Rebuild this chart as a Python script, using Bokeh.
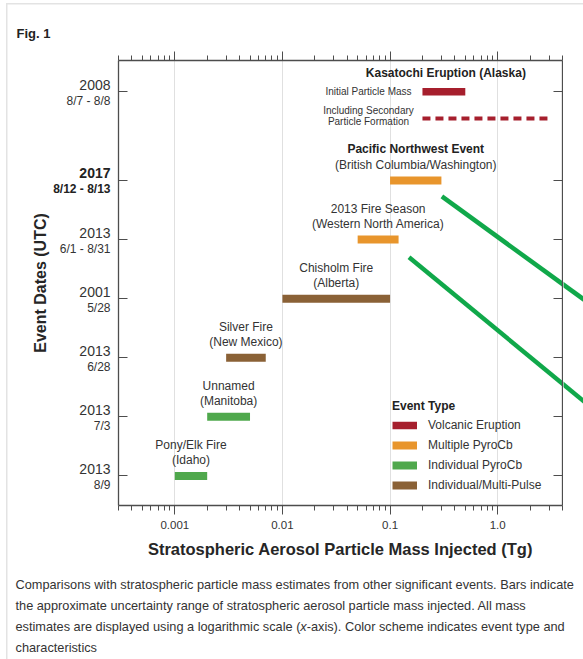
import math

from bokeh.core.properties import value
from bokeh.embed import file_html
from bokeh.layouts import column, row
from bokeh.models import (ColumnDataSource, CustomJSTickFormatter, FixedTicker, Label, Legend,
                          LegendItem, LinearAxis, LogAxis, Range1d)
from bokeh.plotting import figure
from bokeh.resources import INLINE

FONT = "Liberation Sans"

# ---- data -------------------------------------------------------------
# y rows of the chart, bottom to top (Kasatochi row sits a little higher)
row_pos = [0, 1, 2, 3, 4, 5, 6.5]
row_year = ["2013", "2013", "2013", "2001", "2013", "2017", "2008"]
row_dates = ["8/9", "7/3", "6/28", "5/28", "6/1 - 8/31", "8/12 - 8/13", "8/7 - 8/8"]
row_bold = [False, False, False, False, False, True, False]

event_name = ["Pony/Elk Fire", "Unnamed", "Silver Fire", "Chisholm Fire",
              "2013 Fire Season", "Pacific Northwest Event"]
event_place = ["(Idaho)", "(Manitoba)", "(New Mexico)", "(Alberta)",
               "(Western North America)", "(British Columbia/Washington)"]
event_row = [0, 1, 2, 3, 4, 5]
event_type = ["Individual PyroCb", "Individual PyroCb", "Individual/Multi-Pulse",
              "Individual/Multi-Pulse", "Multiple PyroCb", "Multiple PyroCb"]
mass_low = [0.001, 0.002, 0.003, 0.01, 0.05, 0.1]     # Tg
mass_high = [0.002, 0.005, 0.007, 0.1, 0.12, 0.3]     # Tg

kasatochi_row = 6.5
kasatochi_secondary_row = 6.05
kasatochi_initial = [0.2, 0.5]      # Tg
kasatochi_secondary = [0.2, 3.0]    # Tg

type_names = ["Volcanic Eruption", "Multiple PyroCb", "Individual PyroCb", "Individual/Multi-Pulse"]
type_colors = ["#a61f2d", "#e8952c", "#4fa84c", "#8a6136"]

x_major = [0.001, 0.01, 0.1, 1.0]
x_major_labels = ["0.001", "0.01", "0.1", "1.0"]

# green pointer lines (mass, row) start -> end
pointer_x0 = [0.303, 0.150]
pointer_y0 = [4.73, 3.70]
pointer_x1 = [8.0, 8.0]
pointer_y1 = [2.85, 1.11]

caption_lines = [
    "Comparisons with stratospheric particle mass estimates from other significant events. Bars indicate",
    "the approximate uncertainty range of stratospheric aerosol particle mass injected. All mass",
    None,
    "characteristics",
]
caption_line3 = ["estimates are displayed using a logarithmic scale (", "x",
                 "-axis). Color scheme indicates event type and"]

# ---- page geometry ------------------------------------------------------
W, H = 583, 659
TOP_H, BOTTOM_H = 50, 94
MID_H = H - TOP_H - BOTTOM_H            # 515
LEFT_W, RIGHT_W = 117, 20
MAIN_W = W - LEFT_W - RIGHT_W           # 446
MB_TOP, MB_BOTTOM, MB_SIDE = 10, 60, 1  # borders around the plot frame

X0, X1 = 0.0003, 4.0
Y0, Y1 = -0.5, 7.03
color_of = dict(zip(type_names, type_colors))
TXT = "#333333"
BORDER = "#e3e3e3"
AX = "#4d4d4d"
GREEN = "#10a84a"


def bare(width, height, x_range, y_range, **kw):
    f = figure(width=width, height=height, x_range=x_range, y_range=y_range,
               output_backend="svg", toolbar_location=None,
               x_axis_location=None, y_axis_location=None,
               min_border=0, min_border_left=0, min_border_right=0,
               min_border_top=0, min_border_bottom=0, **kw)
    f.outline_line_color = None
    f.grid.visible = False
    f.background_fill_alpha = 0
    f.border_fill_alpha = 0
    return f


# ---- main chart ---------------------------------------------------------
y_range = Range1d(Y0, Y1)
p = figure(width=MAIN_W, height=MID_H, x_axis_type="log",
           x_range=Range1d(X0, X1), y_range=y_range,
           output_backend="svg", toolbar_location=None,
           min_border_left=MB_SIDE, min_border_right=MB_SIDE,
           min_border_top=MB_TOP, min_border_bottom=MB_BOTTOM,
           background_fill_color="white", border_fill_color="white")
p.outline_line_color = None

minor = [m * 10.0 ** e for e in range(-4, 1) for m in range(2, 10)]
minor = [v for v in minor if X0 <= v <= X1]
blank = CustomJSTickFormatter(code="return ''")

xb = p.xaxis[0]
xb.ticker = FixedTicker(ticks=x_major, minor_ticks=minor)
xb.major_label_overrides = dict(zip(x_major, x_major_labels))
xb.major_label_text_font = FONT
xb.major_label_text_font_size = "11.5px"
xb.major_label_text_color = TXT
xb.major_label_standoff = 6
xb.axis_label = "Stratospheric Aerosol Particle Mass Injected (Tg)"
xb.axis_label_text_font = FONT
xb.axis_label_text_font_size = "16.5px"
xb.axis_label_text_font_style = "bold"
xb.axis_label_text_color = "#262626"
xb.axis_label_standoff = 8

xt = LogAxis(ticker=FixedTicker(ticks=x_major, minor_ticks=minor), formatter=blank,
             major_label_text_font_size="0px", major_label_standoff=0)
p.add_layout(xt, "above")

for ax in (xb, xt):
    ax.axis_line_color = AX
    ax.axis_line_width = 1.3
    ax.major_tick_line_color = AX
    ax.minor_tick_line_color = AX
    ax.major_tick_out = 9
    ax.major_tick_in = 0
    ax.minor_tick_out = 5
    ax.minor_tick_in = 0

yl = p.yaxis[0]
yl.ticker = FixedTicker(ticks=row_pos, minor_ticks=[])
yl.formatter = blank
yr = LinearAxis(ticker=FixedTicker(ticks=row_pos, minor_ticks=[]), formatter=blank)
p.add_layout(yr, "right")
for ax in (yl, yr):
    ax.axis_line_color = AX
    ax.axis_line_width = 1.3
    ax.major_tick_line_color = AX
    ax.major_tick_in = 9
    ax.major_tick_out = 0
    ax.minor_tick_in = 0
    ax.minor_tick_out = 0
    ax.major_label_standoff = 0
    ax.major_label_text_font_size = "0px"

p.xgrid.ticker = FixedTicker(ticks=x_major)
p.xgrid.grid_line_color = "#e0e0e0"
p.ygrid.visible = False

# bars
renderers = {}
for t in type_names[1:]:
    idx = [i for i, et in enumerate(event_type) if et == t]
    src = ColumnDataSource(dict(
        lo=[mass_low[i] for i in idx], hi=[mass_high[i] for i in idx],
        row=[event_row[i] for i in idx]))
    renderers[t] = p.segment(x0="lo", x1="hi", y0="row", y1="row", source=src,
                             line_color=color_of[t], line_width=8, line_cap="butt")

renderers["Volcanic Eruption"] = p.segment(
    x0=[kasatochi_initial[0]], x1=[kasatochi_initial[1]],
    y0=[kasatochi_row], y1=[kasatochi_row],
    line_color=color_of["Volcanic Eruption"], line_width=7.5, line_cap="butt")
p.segment(x0=[kasatochi_secondary[0]], x1=[kasatochi_secondary[1]],
          y0=[kasatochi_secondary_row], y1=[kasatochi_secondary_row],
          line_color=color_of["Volcanic Eruption"], line_width=4, line_cap="butt",
          line_dash="8 5")

# event labels, centred over each bar
for name, place, lo, hi, r in zip(event_name, event_place, mass_low, mass_high, event_row):
    xc = math.sqrt(lo * hi)
    bold = name.startswith("Pacific")
    p.add_layout(Label(x=xc, y=r, y_offset=31, text=name, text_align="center",
                       text_baseline="middle", text_font=FONT, text_font_size="12px",
                       text_font_style="bold" if bold else "normal",
                       text_color="#222222" if bold else TXT))
    p.add_layout(Label(x=xc, y=r, y_offset=15.5, text=place, text_align="center",
                       text_baseline="middle", text_font=FONT, text_font_size="12px",
                       text_color=TXT))

p.add_layout(Label(x=0.33, y=kasatochi_row, y_offset=19, text="Kasatochi Eruption (Alaska)",
                   text_align="center", text_baseline="middle", text_font=FONT,
                   text_font_size="12px", text_font_style="bold", text_color="#222222"))
p.add_layout(Label(x=kasatochi_initial[0], y=kasatochi_row, x_offset=-54,
                   text="Initial Particle Mass", text_align="center", text_baseline="middle",
                   text_font=FONT, text_font_size="10px", text_color=TXT))
for txt, dy in (("Including Secondary", 8), ("Particle Formation", -3.5)):
    p.add_layout(Label(x=kasatochi_secondary[0], y=kasatochi_secondary_row, x_offset=-54,
                       y_offset=dy, text=txt, text_align="center", text_baseline="middle",
                       text_font=FONT, text_font_size="10px", text_color=TXT))

legend = Legend(
    items=[LegendItem(label=t, renderers=[renderers[t]]) for t in type_names],
    title="Event Type", location=(392 - LEFT_W - MB_SIDE, 505 - 492),
    glyph_width=25, glyph_height=14, label_height=14, label_standoff=11,
    spacing=6, padding=0, margin=0, border_line_color=None, background_fill_alpha=0,
    label_text_font=FONT, label_text_font_size="12px", label_text_color=TXT,
    title_text_font=FONT, title_text_font_size="12px", title_text_font_style="bold",
    title_text_color="#222222", title_standoff=5)
p.add_layout(legend)

pointer_src = ColumnDataSource(dict(x0=pointer_x0, y0=pointer_y0, x1=pointer_x1, y1=pointer_y1))
p.segment(x0="x0", y0="y0", x1="x1", y1="y1", source=pointer_src,
          line_color=GREEN, line_width=4.5)

# ---- side strips (their frames line up with the chart frame) ------------
# left strip: two-line date labels and the y title
left = bare(LEFT_W, MID_H, Range1d(0, LEFT_W), y_range)
lab_src = ColumnDataSource(dict(
    y=row_pos, year=row_year, dates=row_dates,
    style=["bold" if b else "normal" for b in row_bold],
    color=["#222222" if b else TXT for b in row_bold],
    x=[LEFT_W - 7] * len(row_pos)))
left.text(x="x", y="y", text="year", source=lab_src, y_offset=-7,
          text_align="right", text_baseline="middle", text_font=value(FONT),
          text_font_size="14px", text_font_style="style", text_color="color")
left.text(x="x", y="y", text="dates", source=lab_src, y_offset=9,
          text_align="right", text_baseline="middle", text_font=value(FONT),
          text_font_size="12px", text_font_style="style", text_color="color")
left.text(x=[40], y=[(Y0 + Y1) / 2], text=["Event Dates (UTC)"], angle=math.pi / 2,
          text_align="center", text_baseline="middle", text_font=value(FONT),
          text_font_size="16px", text_font_style="bold", text_color="#262626")

# right strip: the pointer lines run on past the chart edge
dpp = (math.log10(X1) - math.log10(X0)) / (MAIN_W - 2 * MB_SIDE)
right = bare(RIGHT_W, MID_H,
             Range1d(10 ** (math.log10(X1) + MB_SIDE * dpp),
                     10 ** (math.log10(X1) + (MB_SIDE + RIGHT_W) * dpp)),
             y_range, x_axis_type="log")
right.segment(x0="x0", y0="y0", x1="x1", y1="y1", source=pointer_src,
              line_color=GREEN, line_width=4.5)

# ---- heading strip ------------------------------------------------------
top = bare(W, TOP_H, Range1d(0, W), Range1d(TOP_H, 0))
top.text(x=[16], y=[33], text=["Fig. 1"], text_baseline="middle", text_font=value(FONT),
         text_font_size="13px", text_font_style="bold", text_color="#222222")

# ---- caption strip ------------------------------------------------------
y_top = TOP_H + MID_H
bottom = bare(W, BOTTOM_H, Range1d(0, W), Range1d(H, y_top))
cap_y = [584, 605, 626, 647]
CAP = dict(text_baseline="middle", text_font=value(FONT), text_font_size="12.75px",
           text_color="#333333")
plain_x, plain_y, plain_t = [], [], []
for line, cy in zip(caption_lines, cap_y):
    if line is not None:
        plain_x.append(15)
        plain_y.append(cy)
        plain_t.append(line)
plain_x += [15, 15 + 291.2]
plain_y += [cap_y[2], cap_y[2]]
plain_t += [caption_line3[0], caption_line3[2]]
bottom.text(x=plain_x, y=plain_y, text=plain_t, **CAP)
bottom.text(x=[15 + 284.8], y=[cap_y[2]], text=[caption_line3[1]],
            text_font_style="italic", **CAP)

# thin card edge along the top and left of the page
edge = f"linear-gradient({BORDER}, {BORDER})"
page = column(top, row(left, p, right), bottom, styles={
    "background-color": "white",
    "background-image": f"{edge}, {edge}",
    "background-size": "1.5px 100%, 100% 1.5px",
    "background-position": "6px 3px, 6px 3px",
    "background-repeat": "no-repeat",
})
open("out.html", "w").write(file_html(page, INLINE))
